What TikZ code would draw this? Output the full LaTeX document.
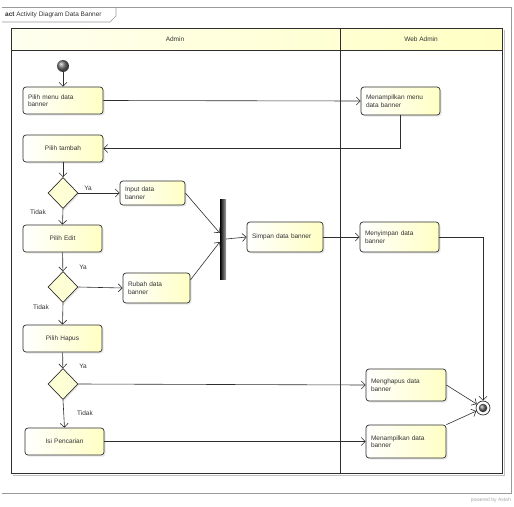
\documentclass[tikz,border=0pt]{standalone}
\usepackage{fontspec}
\setmainfont{Liberation Sans}
\usetikzlibrary{arrows.meta,shadows,shapes.geometric,calc}
\definecolor{ln}{HTML}{2E2E2E}
\definecolor{boxy}{HTML}{FFFFC4}
\definecolor{fr}{HTML}{9A9A9A}
\begin{document}
\begin{tikzpicture}[x=1pt,y=-1pt,
  txt/.style={font=\fontsize{6.5}{7.6}\selectfont, text=black!80},
  act/.style={txt, draw=ln, line width=0.7pt, rounded corners=3pt,
    left color=white, right color=boxy,
    drop shadow={opacity=0.18, shadow xshift=1.6pt, shadow yshift=-1.6pt},
    inner xsep=5pt, inner ysep=2pt, anchor=center},
  dec/.style={diamond, draw=ln, line width=0.7pt, fill=boxy!70!white, inner sep=0pt,
    minimum width=30pt, minimum height=31pt,
    drop shadow={opacity=0.18, shadow xshift=1.4pt, shadow yshift=-1.4pt}},
  flow/.style={draw=ln, line width=0.6pt, -{Straight Barb[length=4pt,width=8pt]}},
  lbl/.style={txt, inner sep=0pt}]
\useasboundingbox (0,0) rectangle (514,506);
% outer frame
\draw[fr, line width=0.8pt] (2,7) -- (511,7) -- (511,493) -- (2,493);
\draw[fr, line width=0.6pt] (2,22) -- (110,22) -- (116,16) -- (116,7);
\node[lbl, anchor=west] (title) at (5,15) {\textbf{act} Activity Diagram Data Banner};
% swimlanes
\draw[black!25, line width=1pt] (13,475) -- (504,475) -- (504,30);
\path[left color=yellow!6, right color=boxy] (11,28) rectangle (502,50);
\draw[ln, line width=0.9pt] (11,28) rectangle (502,473);
\draw[ln, line width=0.8pt] (11,50) -- (502,50);
\draw[ln, line width=0.8pt] (340,28) -- (340,473);
\node[lbl] (hadmin) at (175,39) {Admin};
\node[lbl] (hweb) at (421,39) {Web Admin};
% nodes
\node[circle, minimum size=12pt, inner sep=0pt, shading=ball, ball color=black!55] (init) at (63,66) {};
\node[act, minimum height=27pt, text width=70pt, align=left] (pm) at (63,100.5) {Pilih menu data\\banner};
\node[act, minimum height=27pt, text width=70pt, align=center] (pt) at (63,148.5) {Pilih tambah};
\node[dec] (d1) at (63,193) {};
\node[act, minimum height=24pt, text width=55pt, align=left] (inp) at (152.5,193) {Input data\\banner};
\node[act, minimum height=27pt, text width=69pt, align=center] (pe) at (62.5,238.5) {Pilih Edit};
\node[dec] (d2) at (63,287) {};
\node[act, minimum height=30pt, text width=57pt, align=left] (rub) at (156.5,288) {Rubah data\\banner};
\node[rectangle, minimum width=6pt, minimum height=80pt, inner sep=0pt, left color=black, right color=black!35] (fork) at (223,239) {};
\node[act, minimum height=30pt, text width=66pt, align=left] (sim) at (285,237) {Simpan data banner};
\node[act, minimum height=27pt, text width=69pt, align=center] (ph) at (62.5,338.5) {Pilih Hapus};
\node[dec] (d3) at (63,384) {};
\node[act, minimum height=27pt, text width=69pt, align=center] (isi) at (64.5,441.5) {Isi Pencarian};
\node[act, minimum height=28pt, text width=69pt, align=left] (mm) at (400.5,101) {Menampilkan menu\\data banner};
\node[act, minimum height=30pt, text width=69pt, align=left] (ms) at (399.5,237) {Menyimpan data\\banner};
\node[act, minimum height=32pt, text width=70pt, align=left] (mh) at (406,385) {Menghapus data\\banner};
\node[act, minimum height=33pt, text width=70pt, align=left] (md) at (406,441.5) {Menampilkan data\\banner};
\node[circle, draw=ln, line width=0.7pt, fill=white, minimum size=14pt, inner sep=0pt] (fin) at (483,408) {};
\node[circle, minimum size=8.5pt, inner sep=0pt, shading=ball, ball color=black!60] (finin) at (fin.center) {};
% labels
\node[lbl] (l1) at (88,188) {Ya};
\node[lbl] (l2) at (38,212) {Tidak};
\node[lbl] (l3) at (83,267) {Ya};
\node[lbl] (l4) at (41,307) {Tidak};
\node[lbl] (l5) at (83,366) {Ya};
\node[lbl] (l6) at (85,413) {Tidak};
% flows
\draw[flow] (init) -- (pm);
\draw[flow] (pm.east) -- (mm.west);
\draw[flow] (mm.south) |- (pt.east);
\draw[flow] (pt) -- (d1);
\draw[flow] (d1.east) -- (inp.west);
\draw[flow] (d1.south) -- (pe.north);
\draw[flow] (pe) -- (d2);
\draw[flow] (d2.east) -- (rub.west);
\draw[flow] (d2.south) -- (ph.north);
\draw[flow] (inp.east) -- ($(fork.west)+(0,-6)$);
\draw[flow] ($(rub.east)+(0,-8)$) -- ($(fork.west)+(0,3)$);
\draw[flow] (fork.east) -- (sim.west);
\draw[flow] (sim.east) -- (ms.west);
\draw[flow] (ph) -- (d3);
\draw[flow] (d3.east) -- (mh.west);
\draw[flow] (d3.south) -- (isi.north);
\draw[flow] (isi.east) -- (md.west);
\draw[flow] (ms.east) -| (fin.north);
\draw[flow] (mh.east) -- (fin);
\draw[flow] (md.north east) -- (fin);
\node[font=\fontsize{5}{6}\selectfont, text=black!35, anchor=east, inner sep=0pt] (pw) at (511,500) {powered by Astah};
\end{tikzpicture}
\end{document}
